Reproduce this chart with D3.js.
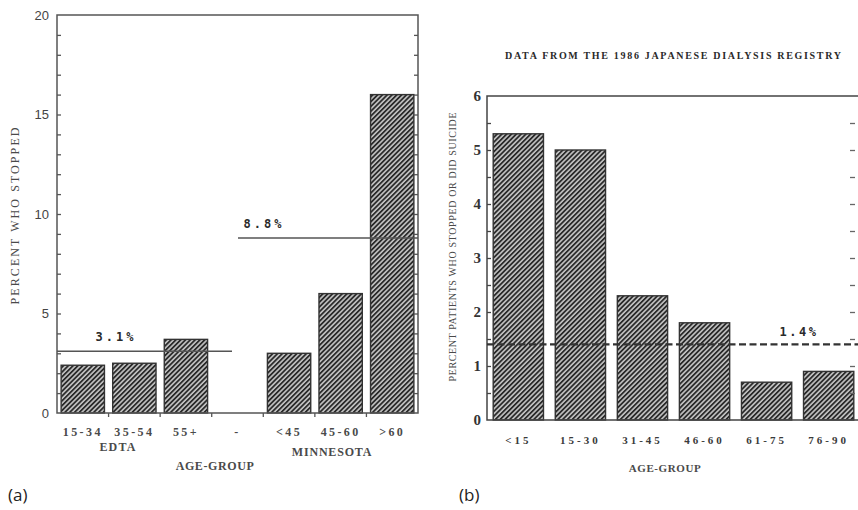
<!DOCTYPE html>
<html>
<head>
<meta charset="utf-8">
<script src="https://cdn.jsdelivr.net/npm/d3@7"></script>
<style>
  html, body { margin: 0; padding: 0; background: #fff; }
  svg { display: block; }
</style>
</head>
<body>
<svg id="fig" width="858" height="510"></svg>
<script>
// Panel (a): EDTA and Minnesota age groups
const catsA = ["15-34", "35-54", "55+", "-", "<45", "45-60", ">60"];
const valsA = [2.4, 2.5, 3.7, null, 3.0, 6.0, 16.0];
const avgEDTA = 3.1;
const avgMinn = 8.8;
const ticksA = [0, 5, 10, 15, 20];

// Panel (b): 1986 Japanese Dialysis Registry
const catsB = ["<15", "15-30", "31-45", "46-60", "61-75", "76-90"];
const valsB = [5.3, 5.0, 2.3, 1.8, 0.7, 0.9];
const avgJapan = 1.4;
const ticksB = [0, 1, 2, 3, 4, 5, 6];

const svg = d3.select("#fig");
const serif = "'Liberation Serif', 'Times New Roman', serif";
const sans = "'Liberation Sans', Arial, sans-serif";
const mono = "'DejaVu Sans Mono', monospace";

// diagonal hatch used for every bar
const defs = svg.append("defs");
const pat = defs.append("pattern")
  .attr("id", "hatch").attr("patternUnits", "userSpaceOnUse")
  .attr("width", 3.4).attr("height", 3.4)
  .attr("patternTransform", "rotate(45)");
pat.append("rect").attr("width", 3.4).attr("height", 3.4).attr("fill", "#c4c4c4");
pat.append("line").attr("x1", 0.9).attr("y1", 0).attr("x2", 0.9).attr("y2", 3.4)
  .attr("stroke", "#2a2a2a").attr("stroke-width", 1.8);

function styleAxis(g, color) {
  g.select(".domain").remove();
  g.selectAll(".tick line").attr("stroke", color).attr("stroke-width", 1.3);
}

/* ---------------- panel (a) ---------------- */
const A = { left: 57, right: 418, top: 15, bottom: 413 };
const xA = d3.scaleBand().domain(catsA).range([A.left, A.right])
  .paddingInner(0.16).paddingOuter(0.08);
const yA = d3.scaleLinear().domain([0, 20]).range([A.bottom, A.top]);
const gA = svg.append("g");

// bars
gA.selectAll("rect.bar").data(catsA.map((c, i) => ({ c, v: valsA[i] })).filter(d => d.v != null))
  .join("rect").attr("class", "bar")
  .attr("x", d => xA(d.c)).attr("width", xA.bandwidth())
  .attr("y", d => yA(d.v)).attr("height", d => yA(0) - yA(d.v))
  .attr("fill", "url(#hatch)").attr("stroke", "#333").attr("stroke-width", 1.4);

// frame
gA.append("rect").attr("x", A.left).attr("y", A.top)
  .attr("width", A.right - A.left).attr("height", A.bottom - A.top)
  .attr("fill", "none").attr("stroke", "#555").attr("stroke-width", 1.5);

// left axis: minor ticks every unit, labels every 5
gA.append("g").attr("transform", `translate(${A.left},0)`)
  .call(d3.axisLeft(yA).tickValues(d3.range(1, 20)).tickSize(-4).tickFormat(""))
  .call(g => styleAxis(g, "#555"));
gA.append("g").attr("transform", `translate(${A.left},0)`)
  .call(d3.axisLeft(yA).tickValues(ticksA).tickSize(0).tickPadding(8))
  .call(g => styleAxis(g, "#555"))
  .call(g => g.selectAll("text").attr("font-family", sans).attr("font-size", 13)
    .attr("fill", "#444"));
// right axis ticks
gA.append("g").attr("transform", `translate(${A.right},0)`)
  .call(d3.axisRight(yA).tickValues(d3.range(1, 20)).tickSize(-4).tickFormat(""))
  .call(g => styleAxis(g, "#555"));

// bottom ticks on band boundaries
const stepA = xA.step();
gA.selectAll("line.btick").data(catsA.slice(1)).join("line").attr("class", "btick")
  .attr("x1", d => xA(d) - stepA * xA.paddingInner() / 2)
  .attr("x2", d => xA(d) - stepA * xA.paddingInner() / 2)
  .attr("y1", A.bottom).attr("y2", A.bottom + 4)
  .attr("stroke", "#555").attr("stroke-width", 1.3);

// category labels
gA.append("g").attr("transform", `translate(0,${A.bottom})`)
  .call(d3.axisBottom(xA).tickSize(0).tickPadding(14))
  .call(g => g.select(".domain").remove())
  .call(g => g.selectAll("text").attr("font-family", serif).attr("font-weight", "bold")
    .attr("font-size", 12).attr("letter-spacing", 2.4).attr("fill", "#4a4a4a"));

// reference lines
gA.append("line").attr("x1", A.left).attr("x2", 232)
  .attr("y1", yA(avgEDTA)).attr("y2", yA(avgEDTA))
  .attr("stroke", "#555").attr("stroke-width", 1.5);
gA.append("text").attr("x", 116).attr("y", yA(avgEDTA) - 10)
  .attr("text-anchor", "middle").attr("font-family", mono).attr("font-weight", "bold")
  .attr("font-size", 12).attr("letter-spacing", 3).attr("fill", "#2a2a2a")
  .text(d3.format(".1f")(avgEDTA) + "%");
gA.append("line").attr("x1", 238).attr("x2", A.right)
  .attr("y1", yA(avgMinn)).attr("y2", yA(avgMinn))
  .attr("stroke", "#555").attr("stroke-width", 1.5);
gA.append("text").attr("x", 264).attr("y", yA(avgMinn) - 10)
  .attr("text-anchor", "middle").attr("font-family", mono).attr("font-weight", "bold")
  .attr("font-size", 12).attr("letter-spacing", 3).attr("fill", "#2a2a2a")
  .text(d3.format(".1f")(avgMinn) + "%");

// group and axis titles
gA.append("text").attr("x", 118).attr("y", 451).attr("text-anchor", "middle")
  .attr("font-family", serif).attr("font-weight", "bold").attr("font-size", 12)
  .attr("letter-spacing", 1.2).attr("fill", "#4a4a4a").text("EDTA");
gA.append("text").attr("x", 332).attr("y", 456).attr("text-anchor", "middle")
  .attr("font-family", serif).attr("font-weight", "bold").attr("font-size", 12)
  .attr("letter-spacing", 0.8).attr("fill", "#4a4a4a").text("MINNESOTA");
gA.append("text").attr("x", 215).attr("y", 470).attr("text-anchor", "middle")
  .attr("font-family", serif).attr("font-weight", "bold").attr("font-size", 12)
  .attr("letter-spacing", 0.6).attr("fill", "#4a4a4a").text("AGE-GROUP");
gA.append("text").attr("transform", "translate(19,216) rotate(-90)")
  .attr("text-anchor", "middle").attr("font-family", serif).attr("font-size", 12)
  .attr("textLength", 177).attr("lengthAdjust", "spacing")
  .attr("fill", "#4a4a4a").text("PERCENT WHO STOPPED");

/* ---------------- panel (b) ---------------- */
const B = { left: 487, right: 858, top: 96, bottom: 420 };
const xB = d3.scaleBand().domain(catsB).range([B.left, 860])
  .paddingInner(0.19).paddingOuter(0.1);
const yB = d3.scaleLinear().domain([0, 6]).range([B.bottom, B.top]);
const gB = svg.append("g");

gB.selectAll("rect.bar").data(catsB.map((c, i) => ({ c, v: valsB[i] })))
  .join("rect").attr("class", "bar")
  .attr("x", d => xB(d.c)).attr("width", xB.bandwidth())
  .attr("y", d => yB(d.v)).attr("height", d => yB(0) - yB(d.v))
  .attr("fill", "url(#hatch)").attr("stroke", "#333").attr("stroke-width", 1.4);

// open frame: top, left and bottom
gB.append("path")
  .attr("d", `M${B.right},${B.top}H${B.left}V${B.bottom}H${B.right}`)
  .attr("fill", "none").attr("stroke", "#444").attr("stroke-width", 1.5);

gB.append("g").attr("transform", `translate(${B.left},0)`)
  .call(d3.axisLeft(yB).tickValues(d3.range(0.5, 6, 0.5)).tickSize(-4).tickFormat(""))
  .call(g => styleAxis(g, "#444"));
gB.append("g").attr("transform", `translate(${B.left},0)`)
  .call(d3.axisLeft(yB).tickValues(ticksB).tickSize(0).tickPadding(6).tickFormat(d3.format("d")))
  .call(g => styleAxis(g, "#444"))
  .call(g => g.selectAll("text").attr("font-family", serif).attr("font-weight", "bold")
    .attr("font-size", 15).attr("fill", "#333"));
gB.append("g").attr("transform", `translate(855,0)`)
  .call(d3.axisRight(yB).tickValues(d3.range(0.5, 6, 0.5)).tickSize(-5).tickFormat(""))
  .call(g => styleAxis(g, "#666"));

gB.append("g").attr("transform", `translate(0,${B.bottom})`)
  .call(d3.axisBottom(xB).tickSize(0).tickPadding(16))
  .call(g => g.select(".domain").remove())
  .call(g => g.selectAll("text").attr("font-family", serif).attr("font-weight", "bold")
    .attr("font-size", 11).attr("letter-spacing", 3).attr("fill", "#3a3a3a"));

// registry average
gB.append("line").attr("x1", B.left).attr("x2", B.right)
  .attr("y1", yB(avgJapan)).attr("y2", yB(avgJapan))
  .attr("stroke", "#333").attr("stroke-width", 2.4).attr("stroke-dasharray", "7,3.5");
gB.append("text").attr("x", 799).attr("y", yB(avgJapan) - 8)
  .attr("text-anchor", "middle").attr("font-family", mono).attr("font-weight", "bold")
  .attr("font-size", 12).attr("letter-spacing", 2.5).attr("fill", "#2a2a2a")
  .text(d3.format(".1f")(avgJapan) + "%");

gB.append("text").attr("x", 673).attr("y", 59).attr("text-anchor", "middle")
  .attr("font-family", serif).attr("font-weight", "bold").attr("font-size", 10)
  .attr("textLength", 336).attr("lengthAdjust", "spacing").attr("fill", "#2a2a2a")
  .text("DATA FROM THE 1986 JAPANESE DIALYSIS REGISTRY");
gB.append("text").attr("x", 665).attr("y", 472).attr("text-anchor", "middle")
  .attr("font-family", serif).attr("font-weight", "bold").attr("font-size", 11)
  .attr("letter-spacing", 0.6).attr("fill", "#4a4a4a").text("AGE-GROUP");
gB.append("text").attr("transform", "translate(456,247) rotate(-90)")
  .attr("text-anchor", "middle").attr("font-family", serif).attr("font-size", 10)
  .attr("textLength", 269).attr("lengthAdjust", "spacing")
  .attr("fill", "#4a4a4a").text("PERCENT PATIENTS WHO STOPPED OR DID SUICIDE");

// panel letters
svg.append("text").attr("x", 8).attr("y", 501).attr("font-family", "'Open Sans', sans-serif")
  .attr("font-size", 17).attr("fill", "#222").text("(a)");
svg.append("text").attr("x", 459).attr("y", 501).attr("font-family", "'Open Sans', sans-serif")
  .attr("font-size", 17).attr("fill", "#222").text("(b)");
</script>
</body>
</html>
